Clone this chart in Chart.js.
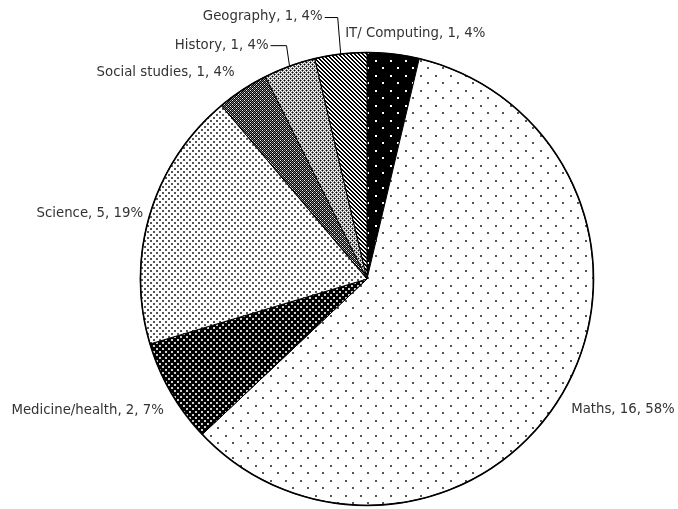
<!DOCTYPE html>
<html>
<head>
<meta charset="utf-8">
<script src="https://cdn.jsdelivr.net/npm/chart.js@4"></script>
<style>
  html, body { margin: 0; padding: 0; background: #fff; }
  #wrap { width: 678px; height: 509px; }
</style>
</head>
<body>
<div id="wrap"><canvas id="subjectsChart" width="678" height="509"></canvas></div>
<script>
// Dados (sentido horário a partir das 12h)
const subjects = ['IT/ Computing', 'Maths', 'Medicine/health', 'Science', 'Social studies', 'History', 'Geography'];
const counts = [1, 16, 2, 5, 1, 1, 1];
const percents = [4, 58, 7, 19, 4, 4, 4];

// Posição dos rótulos relativa ao ponto da borda de cada fatia
const labelLayout = [
    { dx: 22, dy: -20, align: 'center' },
    { dx: 8, dy: 17, align: 'left' },
    { dx: -7, dy: 18, align: 'right' },
    { dx: -7, dy: -1, align: 'right' },
    { dx: -8, dy: -17, align: 'right' },
    { dx: -21, dy: -21, align: 'right', leader: true },
    { dx: -18, dy: -37, align: 'right', leader: true }
];

const canvas = document.getElementById('subjectsChart');
const ctx = canvas.getContext('2d');

// Padrões de preenchimento (estilo Excel)
const palette = { k: '#000000', d: '#404040', g: '#808080', l: '#c0c0c0', w: '#ffffff' };

function pixelPattern(rows) {
    const c = document.createElement('canvas');
    c.width = rows[0].length;
    c.height = rows.length;
    const p = c.getContext('2d');
    rows.forEach((row, j) => {
        [...row].forEach((ch, i) => {
            p.fillStyle = palette[ch];
            p.fillRect(i, j, 1, 1);
        });
    });
    return ctx.createPattern(c, 'repeat');
}

function dotPattern(size, bg, fg, dot) {
    const c = document.createElement('canvas');
    c.width = size;
    c.height = size;
    const p = c.getContext('2d');
    p.fillStyle = bg;
    p.fillRect(0, 0, size, size);
    p.fillStyle = fg;
    const h = Math.floor(size / 2);
    p.fillRect(0, 0, dot, dot);
    p.fillRect(h, h, dot, dot);
    return ctx.createPattern(c, 'repeat');
}

const fills = [
    dotPattern(15, '#000', '#fff', 2),          // IT
    dotPattern(15, '#fff', '#555', 2),          // Maths
    dotPattern(6, '#000', '#d0d0d0', 2),        // Medicine
    dotPattern(6, '#fff', '#555', 2),           // Science
    pixelPattern(['wkgk', 'kgkg', 'gkwk', 'kgkg']),   // Social studies
    pixelPattern(['kgwg', 'gwgw', 'wgkg', 'gwgw']),   // History
    pixelPattern(['kkww', 'wkkw', 'wwkk', 'kwwk'])    // Geography
];

// Rótulos com linhas de chamada
const pieLabels = {
    id: 'pieLabels',
    afterDatasetsDraw(chart) {
        const c = chart.ctx;
        const arcs = chart.getDatasetMeta(0).data;
        const first = arcs[0];

        // contorno externo
        c.save();
        c.beginPath();
        c.arc(first.x, first.y, first.outerRadius, 0, Math.PI * 2);
        c.lineWidth = 1.6;
        c.strokeStyle = '#000';
        c.stroke();

        c.font = '13.3px "DejaVu Sans"';
        c.fillStyle = '#333';
        c.textBaseline = 'middle';

        arcs.forEach((arc, i) => {
            const mid = (arc.startAngle + arc.endAngle) / 2;
            const ax = arc.x + arc.outerRadius * Math.cos(mid);
            const ay = arc.y + arc.outerRadius * Math.sin(mid);
            const lay = labelLayout[i];
            const tx = ax + lay.dx;
            const ty = ay + lay.dy;
            const text = `${subjects[i]}, ${counts[i]}, ${percents[i]}%`;
            c.textAlign = lay.align;
            c.fillText(text, tx, ty);

            if (lay.leader) {
                c.beginPath();
                c.moveTo(tx + 2, ty + 0.5);
                c.lineTo(ax - 3, ty + 0.5);
                c.lineTo(ax, ay);
                c.lineWidth = 1;
                c.strokeStyle = '#000';
                c.stroke();
            }
        });
        c.restore();
    }
};

new Chart(ctx, {
    type: 'pie',
    data: {
        labels: subjects,
        datasets: [{
            data: counts,
            backgroundColor: fills,
            borderColor: '#000',
            borderWidth: 1
        }]
    },
    options: {
        responsive: false,
        animation: false,
        layout: {
            padding: { left: 140, right: 84, top: 52, bottom: 3 }
        },
        plugins: {
            legend: { display: false },
            tooltip: { enabled: false }
        }
    },
    plugins: [pieLabels]
});
</script>
</body>
</html>
